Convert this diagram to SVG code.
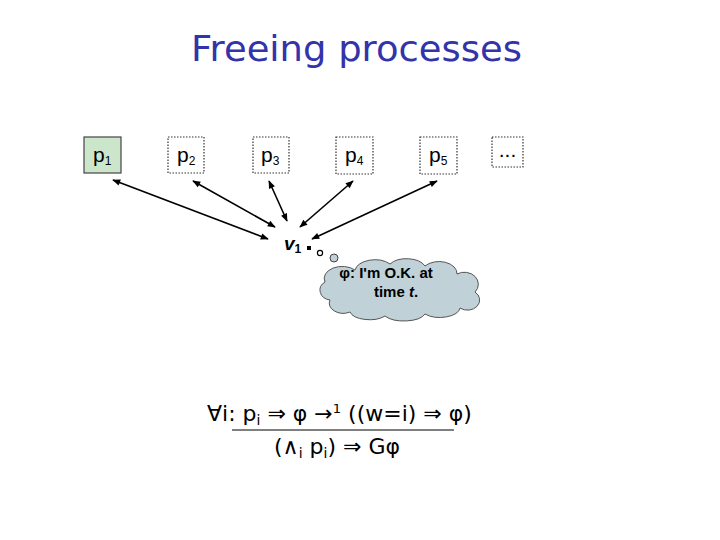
<svg xmlns="http://www.w3.org/2000/svg" width="720" height="540" viewBox="0 0 720 540">
<style>
.box{fill:#ffffff;stroke:#333;stroke-width:1.2;stroke-dasharray:1.5 1.5}
.lbl{font-family:"Liberation Sans",Arial,sans-serif;font-size:21px;fill:#000}
.sub{font-size:12px}
.conn{stroke:#000;stroke-width:1.6;fill:none;marker-start:url(#ah);marker-end:url(#ah)}
.math{font-family:"DejaVu Sans",sans-serif;font-size:22px;fill:#000}
</style>
<defs>
<marker id="ah" viewBox="0 0 10 10" refX="9" refY="5" markerWidth="9" markerHeight="8" orient="auto-start-reverse" markerUnits="userSpaceOnUse">
<path d="M0,1 L10,5 L0,9 Z" fill="#000"/>
</marker>
</defs>
<rect width="720" height="540" fill="#fff"/>
<text x="191" y="61" font-family="'DejaVu Sans',sans-serif" font-size="36" fill="#3333aa" textLength="331" lengthAdjust="spacingAndGlyphs">Freeing processes</text>

<g id="p1"><rect x="84" y="137" width="37" height="36" fill="#cce6cc" stroke="#444" stroke-width="1.2"/><text class="lbl" x="93" y="162">p<tspan class="sub" dy="3">1</tspan></text></g>
<g id="p2"><rect class="box" x="168" y="137" width="36" height="36"/><text class="lbl" x="177" y="162">p<tspan class="sub" dy="3">2</tspan></text></g>
<g id="p3"><rect class="box" x="253" y="137" width="36" height="36"/><text class="lbl" x="261" y="162">p<tspan class="sub" dy="3">3</tspan></text></g>
<g id="p4"><rect class="box" x="336" y="137" width="37" height="37"/><text class="lbl" x="345" y="162">p<tspan class="sub" dy="3">4</tspan></text></g>
<g id="p5"><rect class="box" x="420" y="137" width="37" height="37"/><text class="lbl" x="429" y="162">p<tspan class="sub" dy="3">5</tspan></text></g>
<g id="more"><rect class="box" x="492" y="137" width="31" height="30"/><text class="lbl" x="507.5" y="157" text-anchor="middle" font-size="16">...</text></g>

<g id="connectors">
<line class="conn" x1="113" y1="180" x2="268" y2="239"/>
<line class="conn" x1="193" y1="181" x2="275" y2="227"/>
<line class="conn" x1="269" y1="181" x2="287" y2="221"/>
<line class="conn" x1="353" y1="181" x2="300" y2="227"/>
<line class="conn" x1="437" y1="181" x2="312" y2="239"/>
</g>

<g id="v1"><text x="284" y="250" font-family="'Liberation Sans',Arial,sans-serif" font-size="19" font-style="italic" font-weight="bold">v<tspan font-size="12" font-style="normal" dy="3">1</tspan></text></g>

<g id="thought">
<rect x="307" y="246" width="4" height="4" fill="#000"/>
<circle cx="320" cy="253" r="2.6" fill="#fff" stroke="#000" stroke-width="1.2"/>
<circle cx="334" cy="258" r="4" fill="#c0d2d8" stroke="#444" stroke-width="1"/>
<path d="M330,300 a12,10 0 0 1 -5,-18 a18,12 0 0 1 30,-12 a20,12 0 0 1 35,-6 a20,12 0 0 1 35,2 a18,12 0 0 1 32,8 a14,12 0 0 1 18,18 a12,10 0 0 1 -15,16 a20,10 0 0 1 -35,6 a22,10 0 0 1 -40,2 a20,10 0 0 1 -35,-4 a14,10 0 0 1 -20,-12 Z" fill="#c0d2d8" stroke="#555" stroke-width="1"/>
<text x="386" y="278" text-anchor="middle" font-family="'Liberation Sans',Arial,sans-serif" font-size="15" font-weight="bold">φ: I'm O.K. at</text>
<text x="396" y="297" text-anchor="middle" font-family="'Liberation Sans',Arial,sans-serif" font-size="15" font-weight="bold">time <tspan font-style="italic">t</tspan>.</text>
</g>

<g id="formula">
<text class="math" x="207" y="421">∀i: p<tspan font-size="14" dy="4">i</tspan><tspan dy="-4"> ⇒ φ →</tspan><tspan font-size="13" dy="-8">1</tspan><tspan dy="8"> ((w=i) ⇒ φ)</tspan></text>
<line x1="232" y1="430" x2="454" y2="430" stroke="#000" stroke-width="1"/>
<text class="math" x="274" y="454" font-size="23">(∧<tspan font-size="14" dy="4">i</tspan><tspan dy="-4"> p</tspan><tspan font-size="14" dy="4">i</tspan><tspan dy="-4">) ⇒ Gφ</tspan></text>
</g>
</svg>
